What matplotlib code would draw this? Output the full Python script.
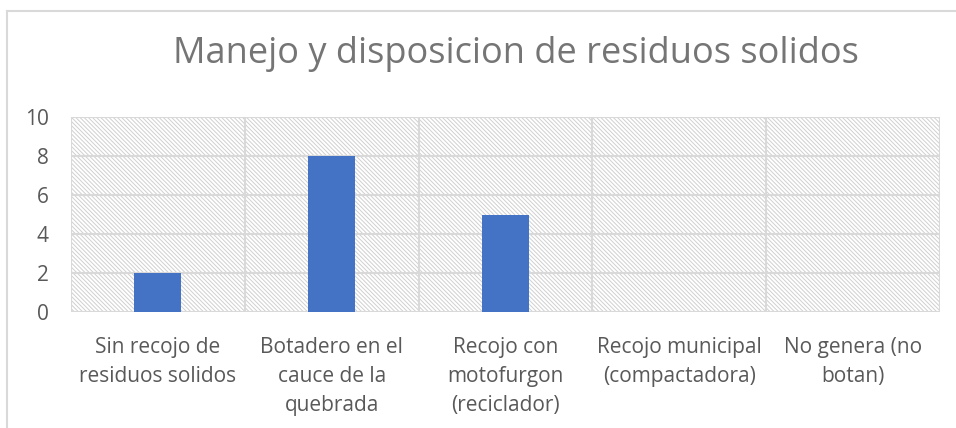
import numpy as np
import matplotlib.pyplot as plt
from matplotlib.patches import Rectangle

# Chart data
categories = ["Sin recojo de\nresiduos solidos",
              "Botadero en el\ncauce de la\nquebrada",
              "Recojo con\nmotofurgon\n(reciclador)",
              "Recojo municipal\n(compactadora)",
              "No genera (no\nbotan)"]
values = [2, 8, 5, 0, 0]
yticks = [0, 2, 4, 6, 8, 10]

plt.rcParams['font.family'] = ['Open Sans', 'DejaVu Sans']
plt.rcParams['hatch.linewidth'] = 0.7
plt.rcParams['hatch.color'] = "#d0d0d0"
text_color = "#595959"
grid_color = "#d9d9d9"

fig = plt.figure(figsize=(9.56, 4.28), dpi=100)
ax = fig.add_axes([71 / 956, 1 - 312 / 428, 869 / 956, 195 / 428])

x = np.arange(len(categories))
ax.set_xlim(-0.5, len(categories) - 0.5)
ax.set_ylim(0, 10)

# hatched background of the plot area
ax.add_patch(Rectangle((-0.5, 0), len(categories), 10, facecolor="white",
                       edgecolor="#d0d0d0", hatch="\\" * 8, lw=0, zorder=0))

ax.bar(x, values, width=0.27, color="#4472C4", zorder=3)

# grid lines
for y in yticks:
    ax.axhline(y, color=grid_color, lw=1.5, zorder=2)
for b in np.arange(-0.5, len(categories), 1.0):
    ax.axvline(b, color=grid_color, lw=1.5, zorder=2)

ax.set_xticks(x)
ax.set_xticklabels(categories, fontsize=15, color=text_color, linespacing=1.5)
ax.set_yticks(yticks)
ax.set_yticklabels([str(v) for v in yticks], fontsize=15, color=text_color)
ax.tick_params(axis="y", length=0, pad=16)
ax.tick_params(axis="x", length=0, pad=18)
for s in ax.spines.values():
    s.set_visible(False)

fig.text(0.54, 1 - 54 / 428, "Manejo y disposicion de residuos solidos",
         ha="center", va="center", fontsize=26, color="#757575")

# outer chart border (only left and top visible in the crop)
fig.add_artist(plt.Line2D([7 / 956, 7 / 956], [0, 1 - 11 / 428],
                          transform=fig.transFigure, color="#d9d9d9", lw=1.5))
fig.add_artist(plt.Line2D([7 / 956, 1], [1 - 11 / 428, 1 - 11 / 428],
                          transform=fig.transFigure, color="#d9d9d9", lw=1.5))

fig.savefig("out.png", dpi=100)
